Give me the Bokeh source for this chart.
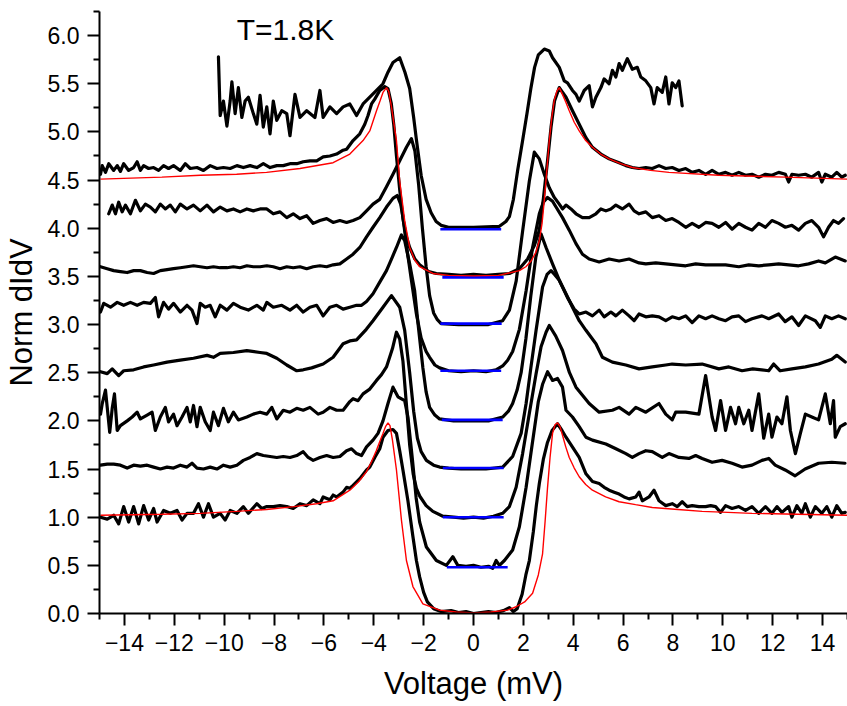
from bokeh.plotting import figure
from bokeh.models import FixedTicker, PrintfTickFormatter
from bokeh.embed import file_html
from bokeh.resources import INLINE
from bokeh.core.properties import value

# ---------------- data ----------------
# each curve: list of (voltage mV, offset normalised dI/dV)
curve_0 = [(-14.96,1.00),(-14.69,0.98),(-14.43,1.02),(-14.23,0.93),(-14.03,1.11),(-13.83,0.95),(-13.63,1.11),(-13.43,0.93),
 (-13.23,1.12),(-13.03,0.97),(-12.83,1.09),(-12.69,0.95),(-12.43,1.07),(-12.16,1.04),(-11.89,1.07),(-11.69,0.97),(-11.49,1.04),
 (-11.23,1.04),(-11.03,1.14),(-10.83,1.00),(-10.63,1.14),(-10.43,1.00),(-10.16,1.04),(-9.96,0.97),(-9.76,1.07),(-9.49,1.04),
 (-9.23,1.11),(-9.03,1.04),(-8.69,1.14),(-8.49,1.09),(-8.29,1.11),(-8.03,1.11),(-7.76,1.12),(-7.49,1.11),(-7.23,1.09),(-6.96,1.14),
 (-6.69,1.12),(-6.43,1.18),(-6.16,1.14),(-6.03,1.21),(-5.76,1.18),(-5.63,1.23),(-5.49,1.21),(-5.23,1.26),(-5.09,1.31),(-4.96,1.30),
 (-4.83,1.33),(-4.56,1.40),(-4.29,1.49),(-4.16,1.52),(-3.96,1.62),(-3.76,1.71),(-3.63,1.83),(-3.43,1.90),(-3.23,1.91),(-3.09,1.87),
 (-2.96,1.69),(-2.83,1.49),(-2.63,1.17),(-2.43,0.80),(-2.29,0.55),(-2.16,0.38),(-2.0,0.22),(-1.85,0.12),(-1.6,0.05),(-1.3,0.02),
 (-0.9,0.03),(-0.6,0.01),(-0.3,0.02),(0.0,0.00),(0.3,0.01),(0.6,0.02),(0.9,0.01),(1.2,0.03),(1.44,0.06),(1.6,0.02),(1.75,0.05),
 (1.95,0.20),(2.1,0.40),(2.24,0.55),(2.4,0.85),(2.52,1.12),(2.64,1.35),(2.8,1.60),(2.96,1.77),(3.15,1.90),(3.37,1.97),(3.55,1.90),
 (3.71,1.83),(4.24,1.62),(4.51,1.45),(4.77,1.37),(5.04,1.35),(5.24,1.31),(5.44,1.28),(5.64,1.26),(5.84,1.24),(6.04,1.21),(6.24,1.19),
 (6.51,1.21),(6.64,1.26),(6.77,1.17),(7.04,1.21),(7.24,1.28),(7.44,1.17),(7.71,1.12),(7.97,1.14),(8.17,1.11),(8.37,1.16),(8.57,1.11),
 (8.77,1.12),(9.04,1.11),(9.31,1.11),(9.51,1.12),(9.71,1.11),(9.91,1.05),(10.11,1.12),(10.37,1.09),(10.64,1.11),(10.91,1.07),
 (11.17,1.11),(11.44,1.04),(11.71,1.11),(11.97,1.04),(12.17,1.11),(12.37,1.05),(12.64,1.11),(12.77,1.00),(12.97,1.12),(13.17,1.04),
 (13.31,1.14),(13.51,1.00),(13.71,1.11),(13.97,1.04),(14.17,1.11),(14.37,1.00),(14.57,1.12),(14.77,1.04),(14.91,1.05)]

curve_05 = [(-14.96,1.54),(-14.69,1.55),(-14.43,1.55),(-14.16,1.54),(-13.89,1.51),(-13.63,1.54),(-13.36,1.53),(-13.09,1.54),
 (-12.83,1.52),(-12.56,1.50),(-12.29,1.52),(-12.03,1.51),(-11.76,1.54),(-11.49,1.52),(-11.29,1.56),(-11.09,1.51),(-10.83,1.50),
 (-10.56,1.52),(-10.29,1.50),(-10.03,1.54),(-9.76,1.52),(-9.49,1.54),(-9.23,1.59),(-8.96,1.62),(-8.69,1.66),(-8.43,1.64),
 (-8.16,1.63),(-7.89,1.62),(-7.63,1.63),(-7.36,1.62),(-7.09,1.64),(-6.83,1.68),(-6.63,1.62),(-6.43,1.59),(-6.16,1.62),(-5.89,1.64),
 (-5.63,1.62),(-5.36,1.63),(-5.09,1.69),(-4.89,1.71),(-4.69,1.66),(-4.49,1.64),(-4.29,1.73),(-4.03,1.80),(-3.83,1.87),(-3.63,2.00),
 (-3.43,2.18),(-3.23,2.35),(-3.03,2.25),(-2.76,2.21),(-2.63,2.04),(-2.45,1.60),(-2.3,1.20),(-2.16,0.95),(-1.89,0.69),(-1.49,0.55),
 (-1.09,0.50),(-0.83,0.59),(-0.63,0.50),(-0.3,0.49),(0.0,0.50),(0.3,0.48),(0.6,0.49),(0.77,0.47),(0.91,0.55),(1.04,0.50),(1.24,0.55),
 (1.57,0.66),(1.84,0.90),(2.11,1.31),(2.35,1.75),(2.6,2.20),(2.77,2.38),(2.97,2.51),(3.17,2.42),(3.37,2.44),(3.57,2.35),(3.71,2.11),
 (3.97,2.04),(4.24,1.94),(4.51,1.83),(4.77,1.80),(5.31,1.76),(5.71,1.71),(6.11,1.66),(6.37,1.62),(6.64,1.66),(6.91,1.69),(7.17,1.68),
 (7.57,1.62),(7.84,1.66),(8.24,1.62),(8.64,1.61),(8.91,1.64),(9.17,1.61),(9.57,1.57),(9.97,1.59),(10.37,1.56),(10.77,1.52),
 (11.17,1.54),(11.57,1.59),(11.84,1.61),(12.1,1.54),(12.5,1.49),(12.9,1.43),(13.3,1.50),(13.84,1.56),(14.37,1.57),(14.9,1.56)]

curve_10 = [(-14.96,2.07),(-14.89,2.18),(-14.76,2.32),(-14.69,2.14),(-14.59,1.88),(-14.49,2.13),(-14.4,2.28),(-14.29,1.90),
 (-14.16,1.95),(-13.89,2.00),(-13.69,2.04),(-13.49,2.09),(-13.36,2.02),(-13.09,2.06),(-12.89,2.09),(-12.76,1.90),(-12.56,2.04),
 (-12.36,2.14),(-12.23,1.99),(-12.03,2.07),(-11.89,1.95),(-11.69,2.04),(-11.49,2.14),(-11.36,1.99),(-11.23,2.16),(-11.09,1.94),
 (-10.96,2.14),(-10.76,1.99),(-10.56,1.90),(-10.43,2.09),(-10.23,1.95),(-10.03,2.13),(-9.83,1.99),(-9.63,2.09),(-9.43,2.01),
 (-9.09,2.04),(-8.83,2.07),(-8.56,2.09),(-8.29,2.07),(-8.09,2.14),(-7.89,2.02),(-7.63,2.11),(-7.36,2.09),(-7.09,2.13),(-6.83,2.11),
 (-6.56,2.14),(-6.23,2.07),(-6.03,2.09),(-5.76,2.14),(-5.49,2.11),(-5.23,2.11),(-4.96,2.20),(-4.83,2.23),(-4.63,2.21),(-4.43,2.28),
 (-4.16,2.33),(-3.89,2.42),(-3.69,2.48),(-3.49,2.56),(-3.25,2.75),(-3.09,2.92),(-2.96,2.85),(-2.83,2.62),(-2.7,2.20),(-2.56,1.75),
 (-2.42,1.45),(-2.29,1.30),(-2.16,1.22),(-1.9,1.12),(-1.63,1.06),(-1.23,1.01),(-0.8,1.00),(-0.4,0.99),(0.0,1.00),(0.4,0.99),
 (0.8,1.01),(1.17,1.04),(1.44,1.11),(1.71,1.31),(1.97,1.66),(2.24,2.08),(2.51,2.49),(2.71,2.77),(2.91,2.92),(3.04,2.99),(3.3,2.88),
 (3.57,2.73),(3.85,2.50),(4.11,2.35),(4.64,2.18),(5.04,2.09),(5.57,2.11),(5.84,2.14),(6.24,2.07),(6.51,2.14),(6.91,2.09),(7.44,2.18),
 (7.71,2.07),(7.97,2.01),(8.11,2.09),(8.51,2.09),(9.04,2.07),(9.31,2.47),(9.57,2.04),(9.71,1.90),(9.91,2.21),(10.11,1.90),
 (10.31,2.14),(10.51,1.97),(10.64,2.14),(10.84,1.97),(11.04,2.11),(11.17,1.90),(11.44,2.28),(11.64,1.82),(11.84,2.07),(11.97,1.83),
 (12.17,2.04),(12.37,1.97),(12.57,2.25),(12.71,1.90),(12.91,1.66),(13.11,1.87),(13.31,2.07),(13.57,2.04),(13.84,2.01),(14.11,2.28),
 (14.31,1.97),(14.44,2.21),(14.51,1.83),(14.71,1.94),(14.91,1.97)]

curve_15 = [(-14.96,2.51),(-14.69,2.49),(-14.49,2.54),(-14.23,2.47),(-14.03,2.52),(-13.63,2.53),(-13.23,2.56),(-12.83,2.58),
 (-12.29,2.61),(-11.76,2.63),(-11.23,2.65),(-10.69,2.68),(-10.43,2.66),(-10.16,2.70),(-9.63,2.71),(-9.09,2.73),(-8.56,2.71),
 (-8.29,2.70),(-7.89,2.65),(-7.49,2.58),(-7.09,2.52),(-6.83,2.53),(-6.49,2.55),(-6.03,2.59),(-5.63,2.66),(-5.23,2.80),(-4.96,2.83),
 (-4.69,2.84),(-4.3,2.95),(-4.03,3.04),(-3.63,3.18),(-3.29,3.30),(-2.96,3.18),(-2.76,2.94),(-2.56,2.50),(-2.4,2.10),(-2.25,1.82),
 (-2.1,1.68),(-1.89,1.59),(-1.6,1.54),(-1.36,1.52),(-1.0,1.51),(-0.5,1.50),(0.0,1.50),(0.5,1.50),(1.17,1.52),(1.57,1.63),(1.91,1.87),
 (2.11,2.18),(2.3,2.55),(2.51,2.94),(2.77,3.39),(2.95,3.52),(3.11,3.56),(3.25,3.52),(3.44,3.46),(3.71,3.32),(3.97,3.18),(4.24,3.04),
 (4.51,2.94),(4.91,2.80),(5.17,2.66),(5.57,2.61),(6.11,2.58),(6.64,2.54),(7.17,2.56),(7.71,2.58),(7.97,2.59),(8.51,2.58),(9.17,2.59),
 (9.84,2.54),(10.24,2.56),(10.77,2.52),(11.2,2.54),(11.84,2.52),(12.04,2.59),(12.3,2.52),(12.77,2.54),(13.31,2.56),(13.84,2.59),
 (14.37,2.64),(14.57,2.68),(14.91,2.61)]

curve_20 = [(-14.96,3.13),(-14.83,3.22),(-14.56,3.18),(-14.29,3.23),(-14.03,3.20),(-13.76,3.23),(-13.49,3.20),(-13.23,3.23),
 (-12.96,3.22),(-12.76,3.28),(-12.63,3.08),(-12.43,3.23),(-12.23,3.16),(-12.03,3.22),(-11.76,3.13),(-11.49,3.20),(-11.29,3.15),
 (-11.09,3.01),(-10.96,3.22),(-10.76,3.18),(-10.56,3.20),(-10.36,3.08),(-10.16,3.20),(-9.89,3.15),(-9.63,3.22),(-9.36,3.18),
 (-9.03,3.15),(-8.69,3.20),(-8.43,3.15),(-8.29,3.23),(-8.03,3.18),(-7.69,3.20),(-7.36,3.15),(-7.09,3.20),(-6.83,3.13),(-6.56,3.18),
 (-6.29,3.20),(-6.03,3.09),(-5.76,3.18),(-5.49,3.20),(-5.23,3.16),(-4.96,3.18),(-4.69,3.20),(-4.49,3.20),(-4.29,3.24),(-4.03,3.32),
 (-3.76,3.44),(-3.49,3.56),(-3.29,3.68),(-3.09,3.80),(-2.89,3.93),(-2.76,3.87),(-2.56,3.63),(-2.36,3.35),(-2.2,2.95),(-2.03,2.55),
 (-1.9,2.30),(-1.76,2.14),(-1.55,2.06),(-1.36,2.02),(-0.8,2.00),(0.0,2.00),(0.6,2.00),(1.17,2.04),(1.4,2.10),(1.57,2.18),(1.75,2.32),
 (1.91,2.50),(2.1,2.85),(2.3,3.30),(2.5,3.70),(2.71,3.94),(2.91,3.80),(3.17,3.63),(3.44,3.46),(3.77,3.28),(4.04,3.16),(4.24,3.11),
 (4.51,3.13),(4.77,3.09),(5.04,3.15),(5.24,3.08),(5.51,3.13),(5.71,3.09),(5.97,3.15),(6.24,3.09),(6.44,3.04),(6.64,3.11),(6.91,3.08),
 (7.17,3.09),(7.44,3.08),(7.71,3.04),(7.97,3.08),(8.24,3.06),(8.51,3.09),(8.77,3.02),(9.04,3.09),(9.31,3.06),(9.57,3.09),(9.84,3.06),
 (10.11,3.04),(10.37,3.08),(10.64,3.09),(10.91,3.03),(11.17,3.06),(11.57,3.09),(11.84,3.06),(12.24,3.11),(12.5,3.03),(12.77,3.08),
 (13.04,2.99),(13.31,3.09),(13.71,3.04),(13.91,2.97),(14.11,3.09),(14.37,3.06),(14.64,3.09),(14.91,3.06)]

curve_25 = [(-14.96,3.60),(-14.69,3.58),(-14.43,3.56),(-14.16,3.55),(-13.89,3.54),(-13.63,3.56),(-13.36,3.56),(-13.09,3.54),
 (-12.83,3.53),(-12.56,3.56),(-12.29,3.57),(-12.03,3.58),(-11.76,3.59),(-11.49,3.60),(-11.23,3.61),(-10.96,3.60),(-10.69,3.59),
 (-10.43,3.60),(-10.16,3.59),(-9.89,3.59),(-9.63,3.60),(-9.36,3.59),(-9.09,3.61),(-8.83,3.60),(-8.56,3.60),(-8.29,3.61),(-8.03,3.60),
 (-7.76,3.58),(-7.49,3.60),(-7.23,3.59),(-6.96,3.60),(-6.69,3.58),(-6.43,3.60),(-6.16,3.61),(-5.89,3.60),(-5.63,3.62),(-5.36,3.63),
 (-5.09,3.68),(-4.83,3.73),(-4.56,3.80),(-4.29,3.91),(-4.03,4.01),(-3.76,4.11),(-3.49,4.22),(-3.23,4.31),(-3.06,4.34),(-2.92,4.25),
 (-2.83,4.12),(-2.69,3.82),(-2.49,3.46),(-2.29,3.11),(-2.1,2.86),(-1.9,2.72),(-1.76,2.66),(-1.55,2.58),(-1.36,2.55),(-1.0,2.52),
 (-0.5,2.51),(0.0,2.52),(0.5,2.51),(0.9,2.53),(1.17,2.57),(1.37,2.63),(1.57,2.72),(1.84,2.95),(2.11,3.35),(2.37,3.80),(2.64,4.15),
 (2.8,4.27),(2.97,4.32),(3.17,4.28),(3.31,4.22),(3.57,4.11),(3.84,3.98),(4.11,3.84),(4.37,3.73),(4.64,3.68),(5.04,3.65),(5.44,3.68),
 (5.84,3.66),(6.24,3.68),(6.64,3.64),(6.91,3.63),(7.31,3.64),(7.71,3.63),(8.11,3.62),(8.51,3.61),(8.91,3.63),(9.31,3.62),(9.71,3.62),
 (10.11,3.62),(10.64,3.60),(11.04,3.62),(11.44,3.61),(11.84,3.62),(12.24,3.63),(12.64,3.62),(13.04,3.61),(13.44,3.63),(13.84,3.66),
 (14.11,3.64),(14.51,3.70),(14.91,3.66)]

curve_30 = [(-14.63,4.15),(-14.49,4.24),(-14.36,4.15),(-14.23,4.27),(-14.09,4.17),(-13.96,4.24),(-13.76,4.15),(-13.56,4.29),
 (-13.36,4.18),(-13.16,4.25),(-12.96,4.22),(-12.76,4.17),(-12.56,4.25),(-12.36,4.20),(-12.16,4.24),(-11.96,4.17),(-11.76,4.25),
 (-11.49,4.20),(-11.23,4.24),(-10.96,4.18),(-10.69,4.24),(-10.43,4.17),(-10.16,4.22),(-9.89,4.18),(-9.63,4.20),(-9.36,4.17),
 (-9.09,4.20),(-8.83,4.18),(-8.56,4.20),(-8.29,4.20),(-8.03,4.15),(-7.76,4.17),(-7.49,4.11),(-7.23,4.15),(-6.96,4.10),(-6.69,4.13),
 (-6.43,4.05),(-6.16,4.08),(-5.89,4.10),(-5.63,4.06),(-5.36,4.08),(-5.09,4.06),(-4.83,4.08),(-4.56,4.11),(-4.29,4.18),(-4.03,4.25),
 (-3.76,4.30),(-3.49,4.43),(-3.23,4.56),(-2.96,4.70),(-2.69,4.84),(-2.49,4.93),(-2.35,4.80),(-2.2,4.45),(-2.05,4.00),(-1.9,3.60),
 (-1.76,3.30),(-1.6,3.12),(-1.45,3.05),(-1.3,3.01),(-0.6,3.00),(0.0,3.00),(0.6,3.00),(1.17,3.04),(1.44,3.15),(1.71,3.45),(1.97,3.97),
 (2.24,4.49),(2.44,4.79),(2.64,4.72),(2.84,4.56),(3.04,4.42),(3.24,4.32),(3.44,4.25),(3.57,4.20),(3.71,4.24),(3.91,4.20),(4.11,4.15),
 (4.37,4.11),(4.64,4.11),(4.91,4.15),(5.11,4.20),(5.31,4.18),(5.51,4.20),(5.71,4.24),(5.97,4.20),(6.24,4.25),(6.44,4.18),(6.64,4.15),
 (6.91,4.17),(7.17,4.11),(7.44,4.13),(7.71,4.08),(7.97,4.10),(8.24,4.06),(8.51,4.01),(8.77,4.05),(9.04,4.01),(9.31,4.06),(9.57,4.05),
 (9.84,4.01),(10.11,4.06),(10.37,3.99),(10.64,4.05),(10.91,4.01),(11.17,3.98),(11.44,4.05),(11.71,4.01),(11.97,4.08),(12.24,4.05),
 (12.51,4.01),(12.77,4.03),(13.04,3.98),(13.31,4.05),(13.57,4.08),(13.84,4.01),(14.04,3.91),(14.24,4.01),(14.44,4.08),(14.64,4.05),
 (14.84,4.10)]

curve_35 = [(-14.96,4.56),(-14.89,4.65),(-14.76,4.58),(-14.63,4.67),(-14.43,4.60),(-14.29,4.65),(-14.16,4.59),(-14.03,4.67),
 (-13.83,4.60),(-13.63,4.63),(-13.49,4.69),(-13.36,4.60),(-13.23,4.65),(-13.03,4.62),(-12.83,4.63),(-12.63,4.60),(-12.43,4.65),
 (-12.23,4.62),(-12.03,4.65),(-11.76,4.60),(-11.56,4.67),(-11.36,4.62),(-11.09,4.63),(-10.83,4.60),(-10.56,4.65),(-10.29,4.62),
 (-10.03,4.63),(-9.76,4.62),(-9.49,4.65),(-9.23,4.63),(-8.96,4.65),(-8.69,4.63),(-8.43,4.67),(-8.16,4.63),(-7.89,4.65),(-7.63,4.65),
 (-7.36,4.67),(-7.09,4.67),(-6.83,4.69),(-6.56,4.70),(-6.29,4.70),(-6.03,4.74),(-5.76,4.75),(-5.49,4.77),(-5.23,4.81),(-5.09,4.82),
 (-4.83,4.91),(-4.56,4.98),(-4.36,5.08),(-4.23,5.17),(-4.09,5.29),(-3.96,5.34),(-3.76,5.43),(-3.56,5.47),(-3.43,5.45),(-3.3,5.30),
 (-3.2,5.08),(-3.09,4.75),(-2.96,4.40),(-2.83,4.10),(-2.7,3.92),(-2.56,3.80),(-2.35,3.68),(-2.16,3.62),(-1.8,3.55),(-1.49,3.53),
 (-1.0,3.52),(-0.5,3.51),(0.0,3.52),(0.5,3.51),(1.0,3.52),(1.44,3.53),(1.84,3.58),(2.17,3.68),(2.44,3.82),(2.64,3.98),(2.8,4.30),
 (2.97,4.70),(3.11,5.05),(3.25,5.32),(3.44,5.46),(3.71,5.36),(3.97,5.22),(4.24,5.08),(4.51,4.94),(4.77,4.84),(5.11,4.77),(5.44,4.72),
 (5.84,4.68),(6.11,4.65),(6.37,4.63),(6.64,4.62),(6.91,4.63),(7.17,4.62),(7.44,4.65),(7.71,4.62),(7.97,4.63),(8.24,4.60),(8.51,4.62),
 (8.77,4.58),(9.04,4.60),(9.31,4.56),(9.57,4.60),(9.84,4.56),(10.11,4.58),(10.37,4.55),(10.64,4.58),(10.91,4.55),(11.17,4.56),
 (11.44,4.53),(11.71,4.56),(11.97,4.55),(12.24,4.58),(12.51,4.56),(12.64,4.48),(12.77,4.56),(13.04,4.55),(13.31,4.56),(13.57,4.53),
 (13.84,4.58),(13.97,4.48),(14.11,4.56),(14.37,4.53),(14.57,4.58),(14.77,4.53),(14.91,4.55)]

curve_40 = [(-10.23,5.78),(-10.16,5.17),(-10.03,5.32),(-9.89,5.06),(-9.76,5.32),(-9.69,5.52),(-9.56,5.19),(-9.43,5.46),
 (-9.29,5.15),(-9.16,5.32),(-9.03,5.36),(-8.83,5.19),(-8.69,5.08),(-8.56,5.38),(-8.43,5.05),(-8.29,5.26),(-8.16,4.98),(-8.03,5.32),
 (-7.89,5.12),(-7.69,5.22),(-7.49,5.19),(-7.36,4.96),(-7.16,5.39),(-6.96,5.15),(-6.69,5.22),(-6.36,5.15),(-6.16,5.43),(-6.03,5.15),
 (-5.76,5.26),(-5.49,5.19),(-5.23,5.26),(-4.96,5.29),(-4.69,5.17),(-4.43,5.29),(-4.16,5.36),(-3.89,5.43),(-3.63,5.50),(-3.43,5.62),
 (-3.23,5.72),(-2.96,5.77),(-2.75,5.62),(-2.56,5.45),(-2.4,5.15),(-2.29,4.92),(-2.1,4.55),(-1.9,4.30),(-1.7,4.16),(-1.5,4.07),
 (-1.3,4.03),(-1.0,4.01),(0.0,4.01),(1.04,4.02),(1.3,4.07),(1.44,4.12),(1.6,4.30),(1.77,4.60),(1.97,4.91),(2.15,5.20),(2.3,5.45),
 (2.45,5.67),(2.6,5.80),(2.84,5.86),(3.04,5.84),(3.17,5.77),(3.44,5.67),(3.64,5.53),(3.77,5.51),(3.97,5.43),(4.11,5.39),(4.24,5.32),
 (4.44,5.43),(4.64,5.48),(4.77,5.26),(4.91,5.36),(5.11,5.46),(5.24,5.55),(5.44,5.50),(5.57,5.64),(5.71,5.57),(5.84,5.71),(5.97,5.64),
 (6.17,5.76),(6.37,5.65),(6.57,5.67),(6.71,5.57),(6.91,5.53),(7.11,5.46),(7.24,5.29),(7.37,5.46),(7.57,5.41),(7.71,5.57),(7.84,5.29),
 (7.97,5.51),(8.11,5.46),(8.24,5.53),(8.37,5.27)]

# red fits (lower on curve_0, upper on curve_35)
fit_low = [(-14.96,1.02),(-12.5,1.03),(-10.96,1.04),(-9.5,1.06),(-8.3,1.08),(-7.2,1.11),(-6.3,1.14),(-5.63,1.17),(-4.96,1.28),
 (-4.6,1.37),(-4.3,1.47),(-4.1,1.57),(-3.9,1.69),(-3.75,1.79),(-3.63,1.87),(-3.53,1.94),(-3.43,1.98),(-3.35,1.95),(-3.25,1.80),
 (-3.09,1.49),(-2.89,0.97),(-2.69,0.55),(-2.43,0.28),(-2.03,0.10),(-1.36,0.035),(-0.7,0.015),(0.0,0.006),(0.7,0.015),(1.36,0.035),
 (1.71,0.07),(2.05,0.12),(2.37,0.21),(2.6,0.40),(2.77,0.62),(2.87,0.95),(2.97,1.31),(3.07,1.62),(3.17,1.87),(3.27,1.96),(3.37,1.98),
 (3.47,1.94),(3.57,1.85),(3.7,1.73),(3.84,1.62),(4.04,1.51),(4.24,1.42),(4.5,1.34),(4.77,1.28),(5.3,1.21),(5.84,1.16),(6.5,1.13),
 (7.17,1.10),(8.2,1.08),(9.17,1.06),(10.2,1.05),(11.17,1.04),(13.0,1.03),(14.98,1.02)]

fit_high = [(-14.96,4.51),(-12.5,4.53),(-10.96,4.55),(-9.5,4.56),(-8.3,4.58),(-6.96,4.62),(-5.63,4.68),(-4.96,4.77),(-4.43,4.91),
 (-4.16,5.01),(-3.89,5.22),(-3.75,5.32),(-3.63,5.41),(-3.49,5.46),(-3.4,5.42),(-3.29,5.26),(-3.09,4.91),(-2.96,4.49),(-2.76,4.08),
 (-2.56,3.80),(-2.36,3.67),(-2.16,3.60),(-1.63,3.53),(-1.0,3.51),(0.0,3.505),(1.0,3.51),(1.84,3.56),(2.1,3.60),(2.31,3.66),
 (2.5,3.75),(2.64,3.87),(2.75,4.05),(2.84,4.29),(2.94,4.60),(3.04,4.91),(3.14,5.15),(3.24,5.33),(3.34,5.42),(3.44,5.46),(3.55,5.40),
 (3.7,5.31),(3.84,5.22),(4.04,5.10),(4.24,5.01),(4.5,4.91),(4.77,4.84),(5.1,4.77),(5.44,4.72),(5.9,4.67),(6.37,4.63),(7.1,4.60),
 (7.84,4.58),(9.84,4.55),(12.5,4.53),(14.98,4.51)]

# blue zero-conductance markers inside the gap
blue_level = [0.48, 1.00, 1.51, 2.01, 2.52, 3.01, 3.49, 3.99]
blue_start = [-1.07, -1.23, -1.23, -1.27, -1.33, -1.33, -1.25, -1.33]
blue_end = [1.37, 1.21, 1.21, 1.17, 1.11, 1.13, 1.21, 1.11]

x_ticks = [-14, -12, -10, -8, -6, -4, -2, 0, 2, 4, 6, 8, 10, 12, 14]
x_minor = [-15, -13, -11, -9, -7, -5, -3, -1, 1, 3, 5, 7, 9, 11, 13, 15]
y_ticks = [0.0, 0.5, 1.0, 1.5, 2.0, 2.5, 3.0, 3.5, 4.0, 4.5, 5.0, 5.5, 6.0]
y_minor = [0.25, 0.75, 1.25, 1.75, 2.25, 2.75, 3.25, 3.75, 4.25, 4.75, 5.25, 5.75, 6.25]

temp_label = "T=1.8K"
temp_pos = (-9.5, 6.06)

FONT = "Liberation Sans"

# ---------------- figure ----------------
p = figure(width=847, height=706, x_range=(-15, 15), y_range=(0, 6.25),
           output_backend="svg", toolbar_location=None,
           min_border_left=99, min_border_right=0, min_border_top=11, min_border_bottom=93,
           x_axis_label="Voltage (mV)", y_axis_label="Norm dIdV")
p.outline_line_color = None
p.xgrid.visible = False
p.ygrid.visible = False
p.background_fill_color = "white"
p.border_fill_color = "white"

for c in [curve_0, curve_05, curve_10, curve_15, curve_20, curve_25, curve_30, curve_35, curve_40]:
    xs = [pt[0] for pt in c]
    ys = [pt[1] for pt in c]
    p.line(xs, ys, line_color="black", line_width=3.2, line_join="round", line_cap="round")

p.segment(x0=blue_start, y0=blue_level, x1=blue_end, y1=blue_level,
          line_color="#0000ff", line_width=2.6)

for f in [fit_low, fit_high]:
    p.line([pt[0] for pt in f], [pt[1] for pt in f], line_color="#ff0000", line_width=1.4)

p.text(x=[temp_pos[0]], y=[temp_pos[1]], text=[temp_label], text_font=value(FONT),
       text_font_size="30px", text_baseline="alphabetic", text_align="left", text_color="black")

for ax in (p.xaxis[0], p.yaxis[0]):
    ax.axis_line_width = 2
    ax.axis_line_color = "black"
    ax.major_tick_line_width = 2
    ax.minor_tick_line_width = 2
    ax.major_tick_line_color = "black"
    ax.minor_tick_line_color = "black"
    ax.major_tick_out = 12
    ax.major_tick_in = 0
    ax.minor_tick_out = 6
    ax.minor_tick_in = 0
    ax.major_label_text_font = FONT
    ax.major_label_text_font_size = "23px"
    ax.major_label_text_color = "black"
    ax.axis_label_text_font = FONT
    ax.axis_label_text_font_size = "31px"
    ax.axis_label_text_font_style = "normal"
    ax.axis_label_text_color = "black"
    ax.major_label_standoff = 8

p.xaxis.ticker = FixedTicker(ticks=x_ticks, minor_ticks=x_minor)
p.yaxis.ticker = FixedTicker(ticks=y_ticks, minor_ticks=y_minor)
p.yaxis.formatter = PrintfTickFormatter(format="%.1f")
p.xaxis.axis_label_standoff = 12
p.yaxis.axis_label_standoff = 6

open("out.html", "w").write(file_html(p, INLINE))
